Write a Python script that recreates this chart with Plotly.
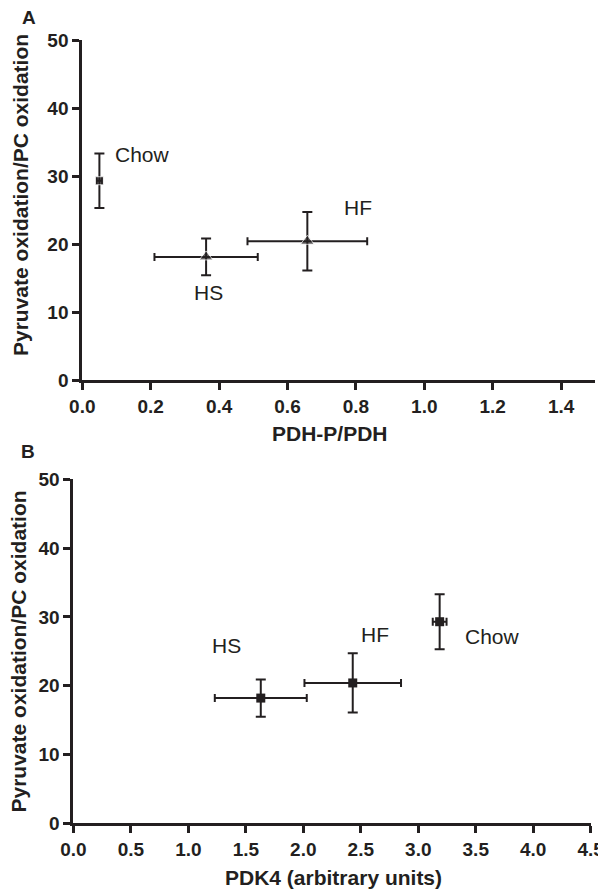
import plotly.graph_objects as go

groups = ["Chow", "HS", "HF"]

# Panel A: PDH-P/PDH vs pyruvate oxidation/PC oxidation
a_x = [0.05, 0.362, 0.658]
a_x_err = [0.008, 0.151, 0.175]
a_y = [29.3, 18.1, 20.4]
a_y_err = [4.0, 2.7, 4.3]
a_symbols = ["square", "triangle-up", "triangle-up"]
a_label_x = [0.176, 0.37, 0.807]
a_label_y = [33.1, 12.8, 25.4]

# Panel B: PDK4 vs pyruvate oxidation/PC oxidation
b_x = [3.186, 1.63, 2.43]
b_x_err = [0.06, 0.40, 0.42]
b_y = [29.3, 18.2, 20.4]
b_y_err = [4.0, 2.7, 4.3]
b_label_x = [3.65, 1.33, 2.62]
b_label_y = [27.2, 25.8, 27.4]

a_xticks = [0.0, 0.2, 0.4, 0.6, 0.8, 1.0, 1.2, 1.4]
b_xticks = [0.0, 0.5, 1.0, 1.5, 2.0, 2.5, 3.0, 3.5, 4.0, 4.5]
yticks = [0, 10, 20, 30, 40, 50]

INK = "#231f20"
FONT = "Liberation Sans, Arial, sans-serif"
OFF = 8  # page body margin
W, H = 606 - OFF, 890 - OFF

def fx(p):
    return (p - OFF) / W

def fy(p):
    return 1 - (p - OFF) / H

fig = go.Figure()

fig.add_trace(go.Scatter(
    x=a_x, y=a_y, mode="markers", xaxis="x", yaxis="y",
    marker=dict(symbol=a_symbols, size=[8, 12, 12], color=INK),
    error_x=dict(type="data", array=a_x_err, color=INK, thickness=2, width=4),
    error_y=dict(type="data", array=a_y_err, color=INK, thickness=2, width=5),
    showlegend=False, hoverinfo="skip"))

fig.add_trace(go.Scatter(
    x=b_x, y=b_y, mode="markers", xaxis="x2", yaxis="y2",
    marker=dict(symbol="square", size=9, color=INK),
    error_x=dict(type="data", array=b_x_err, color=INK, thickness=2, width=4),
    error_y=dict(type="data", array=b_y_err, color=INK, thickness=2, width=5),
    showlegend=False, hoverinfo="skip"))

ax_common = dict(showgrid=False, zeroline=False, showline=True, linecolor=INK,
                 linewidth=3, ticks="outside", ticklen=7, tickwidth=3,
                 tickcolor=INK, automargin=False,
                 tickfont=dict(family=FONT, size=19, color=INK, weight="bold"))

fig.update_layout(
    width=W, height=H, margin=dict(l=0, r=0, t=0, b=0, pad=0, autoexpand=False),
    paper_bgcolor="white", plot_bgcolor="white",
    xaxis=dict(domain=[fx(82.3), fx(595.3)], range=[0, 1.5], anchor="y",
               tickvals=a_xticks, ticktext=[f"{v:.1f}" for v in a_xticks], **ax_common),
    yaxis=dict(domain=[fy(380), fy(40)], range=[0, 50], anchor="x",
               tickvals=yticks, **ax_common),
    xaxis2=dict(domain=[fx(73.4), fx(590.7)], range=[0, 4.5], anchor="y2",
                tickvals=b_xticks, ticktext=[f"{v:.1f}" for v in b_xticks], **ax_common),
    yaxis2=dict(domain=[fy(823.3), fy(479.3)], range=[0, 50], anchor="x2",
                tickvals=yticks, **ax_common),
)

ann = []
for g, lx, ly in zip(groups, a_label_x, a_label_y):
    ann.append(dict(x=lx, y=ly, xref="x", yref="y", text=g, showarrow=False,
                    xanchor="center", yanchor="middle",
                    font=dict(family=FONT, size=21, color=INK)))
for g, lx, ly in zip(groups, b_label_x, b_label_y):
    ann.append(dict(x=lx, y=ly, xref="x2", yref="y2", text=g, showarrow=False,
                    xanchor="center", yanchor="middle",
                    font=dict(family=FONT, size=21, color=INK)))

for txt, (xp, yp) in [("A", (29, 17)), ("B", (27.5, 451))]:
    ann.append(dict(x=fx(xp), y=fy(yp), xref="paper", yref="paper", text=f"<b>{txt}</b>",
                    showarrow=False, xanchor="center", yanchor="middle",
                    font=dict(family=FONT, size=19, color=INK)))

for txt, (xp, yp) in [("Pyruvate oxidation/PC oxidation", (21, 195)),
                      ("Pyruvate oxidation/PC oxidation", (17.5, 652))]:
    ann.append(dict(x=fx(xp), y=fy(yp), xref="paper", yref="paper", text=f"<b>{txt}</b>",
                    textangle=-90, showarrow=False, xanchor="center", yanchor="middle",
                    font=dict(family=FONT, size=21, color=INK)))

for txt, (xp, yp) in [("PDH-P/PDH", (330, 433)), ("PDK4 (arbitrary units)", (333, 877))]:
    ann.append(dict(x=fx(xp), y=fy(yp), xref="paper", yref="paper", text=f"<b>{txt}</b>",
                    showarrow=False, xanchor="center", yanchor="middle",
                    font=dict(family=FONT, size=21, color=INK)))

fig.update_layout(annotations=ann)
fig.write_html("out.html")
